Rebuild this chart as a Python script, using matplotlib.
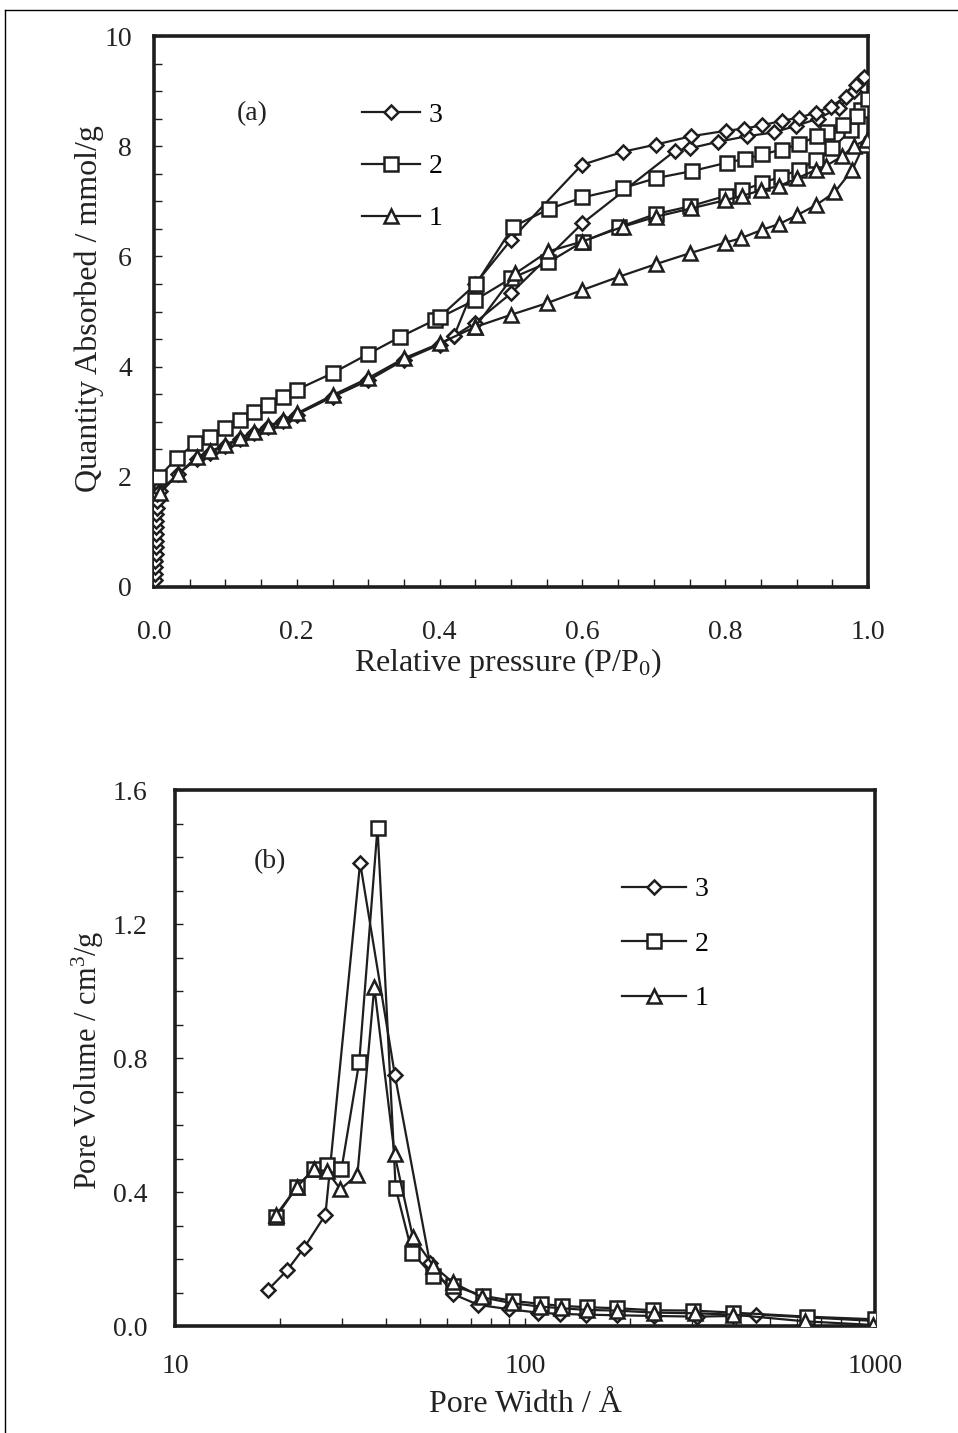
import matplotlib
matplotlib.use("Agg")
import matplotlib.pyplot as plt
from matplotlib.lines import Line2D
from matplotlib.ticker import MultipleLocator, FixedLocator, NullFormatter

plt.rcParams['font.family'] = ['Liberation Serif', 'DejaVu Serif']
plt.rcParams['mathtext.fontset'] = 'custom'
plt.rcParams['mathtext.rm'] = 'Liberation Serif'
plt.rcParams['mathtext.it'] = 'Liberation Serif'

# ---------------- Panel (a): isotherms ----------------
# sample 3 (diamond)
s3_ads_p = [0.0015, 0.0017, 0.0019, 0.0021, 0.0023, 0.0025, 0.0027, 0.0029, 0.0031, 0.0033, 0.0035,
            0.0037, 0.0039, 0.0042, 0.008, 0.034, 0.06, 0.078, 0.10, 0.12, 0.14, 0.16, 0.18, 0.20,
            0.25, 0.30, 0.35, 0.40, 0.42, 0.45, 0.50, 0.60, 0.73, 0.75, 0.79, 0.83, 0.868, 0.899,
            0.93, 0.96, 0.98, 0.99]
s3_ads_q = [0.12, 0.24, 0.36, 0.48, 0.60, 0.72, 0.84, 0.96, 1.08, 1.20, 1.32,
            1.44, 1.56, 1.68, 1.75, 2.05, 2.33, 2.44, 2.56, 2.68, 2.80, 2.90, 3.01, 3.13,
            3.45, 3.75, 4.12, 4.40, 4.55, 4.80, 5.33, 6.60, 7.92, 7.96, 8.08, 8.18, 8.25, 8.37,
            8.50, 8.70, 9.00, 9.20]
s3_des_p = [0.995, 0.983, 0.969, 0.948, 0.927, 0.904, 0.879, 0.852, 0.827, 0.801, 0.752, 0.703,
            0.657, 0.599, 0.50, 0.45, 0.42]
s3_des_q = [9.26, 9.11, 8.90, 8.72, 8.61, 8.52, 8.46, 8.38, 8.32, 8.28, 8.18, 8.03,
            7.90, 7.66, 6.30, 5.50, 4.55]

# sample 2 (square)
s2_ads_p = [0.007, 0.032, 0.058, 0.079, 0.10, 0.12, 0.14, 0.16, 0.18, 0.20, 0.25, 0.30, 0.345,
            0.394, 0.45, 0.50, 0.552, 0.601, 0.651, 0.703, 0.751, 0.801, 0.824, 0.852, 0.878,
            0.903, 0.927, 0.95, 0.976, 0.99, 1.0]
s2_ads_q = [2.00, 2.34, 2.61, 2.73, 2.88, 3.03, 3.18, 3.30, 3.44, 3.58, 3.88, 4.23, 4.54,
            4.85, 5.21, 5.60, 5.89, 6.27, 6.53, 6.77, 6.91, 7.10, 7.20, 7.33, 7.45,
            7.57, 7.75, 7.96, 8.29, 8.66, 8.85]
s2_des_p = [0.985, 0.965, 0.943, 0.928, 0.904, 0.879, 0.852, 0.828, 0.802, 0.754, 0.703, 0.657,
            0.600, 0.553, 0.503, 0.451, 0.40]
s2_des_q = [8.55, 8.38, 8.26, 8.18, 8.04, 7.94, 7.85, 7.77, 7.70, 7.55, 7.42, 7.24,
            7.07, 6.86, 6.54, 5.50, 4.90]

# sample 1 (triangle)
s1_ads_p = [0.008, 0.034, 0.06, 0.078, 0.10, 0.12, 0.14, 0.16, 0.18, 0.20, 0.25, 0.30, 0.35,
            0.40, 0.45, 0.50, 0.55, 0.60, 0.651, 0.703, 0.751, 0.80, 0.822, 0.851, 0.876, 0.901,
            0.927, 0.953, 0.978, 0.994]
s1_ads_q = [1.70, 2.05, 2.36, 2.46, 2.58, 2.70, 2.82, 2.92, 3.03, 3.15, 3.48, 3.79, 4.15,
            4.42, 4.72, 4.94, 5.15, 5.39, 5.63, 5.86, 6.06, 6.25, 6.33, 6.48, 6.59, 6.75,
            6.93, 7.16, 7.57, 8.02]
s1_des_p = [0.998, 0.98, 0.964, 0.941, 0.927, 0.901, 0.876, 0.85, 0.824, 0.80, 0.752, 0.703,
            0.657, 0.60, 0.552, 0.506, 0.45]
s1_des_q = [8.12, 8.00, 7.82, 7.64, 7.57, 7.42, 7.28, 7.20, 7.10, 7.02, 6.87, 6.72,
            6.54, 6.27, 6.09, 5.69, 4.72]

# ---------------- Panel (b): pore size distribution ----------------
s3_D = [18.4, 20.9, 23.4, 26.9, 33.8, 42.5, 53.5, 62.4, 73.6, 90.2, 108.6, 126, 149, 183, 233,
        310, 394, 457, 1000]
s3_V = [0.107, 0.166, 0.234, 0.332, 1.383, 0.748, 0.188, 0.095, 0.063, 0.050, 0.040, 0.036,
        0.034, 0.032, 0.030, 0.028, 0.030, 0.034, 0.015]
s2_D = [19.4, 22.3, 24.9, 27.2, 29.9, 33.6, 37.9, 42.7, 47.6, 54.7, 62.4, 76.0, 92.3, 111,
        127.4, 150.7, 183.6, 232.8, 302.9, 392.3, 638, 1000]
s2_V = [0.324, 0.415, 0.468, 0.480, 0.468, 0.788, 1.488, 0.412, 0.218, 0.149, 0.12, 0.090,
        0.075, 0.066, 0.060, 0.056, 0.053, 0.047, 0.046, 0.040, 0.028, 0.020]
s1_D = [19.4, 22.3, 24.9, 27.2, 29.7, 33.2, 37.1, 42.4, 47.8, 54.7, 62.2, 75.2, 91.9, 110.5,
        127, 150, 183, 233, 305, 392, 630, 990]
s1_V = [0.330, 0.415, 0.468, 0.462, 0.408, 0.452, 1.012, 0.512, 0.266, 0.180, 0.130, 0.086,
        0.068, 0.058, 0.053, 0.048, 0.046, 0.040, 0.038, 0.034, 0.014, 0.003]

labels = ['3', '2', '1']

C = '#1e1e1e'
TC = '#222222'
W, H = 958, 1433
fig = plt.figure(figsize=(W / 100, H / 100), dpi=100)

# outer frame (top and left edges visible)
fig.add_artist(Line2D([5 / W, 1.0], [1 - 10 / H, 1 - 10 / H], color='black', lw=1.0,
                      transform=fig.transFigure))
fig.add_artist(Line2D([5 / W, 5 / W], [0, 1 - 10 / H], color='black', lw=1.0,
                      transform=fig.transFigure))

FS = 20      # tick / legend labels
LFS = 23     # axis titles
style = dict(color=C, lw=1.6, mfc='white', mec=C, mew=1.8, zorder=3)
mk = {'3': dict(marker='D', ms=7.5), '2': dict(marker='s', ms=9.5), '1': dict(marker='^', ms=9.5)}


def style_axes(ax):
    for s in ax.spines.values():
        s.set_linewidth(2.6)
        s.set_color(C)
    ax.tick_params(which='both', direction='in', length=6, width=1.0, color=C,
                   top=False, right=False, labelsize=FS, labelcolor=TC)


# ---- (a)
axa = fig.add_axes([154 / W, 1 - 587 / H, (868 - 154) / W, (587 - 36) / H])
style_axes(axa)
h3, = axa.plot(s3_ads_p + s3_des_p, s3_ads_q + s3_des_q, **style, **mk['3'])
h2, = axa.plot(s2_ads_p + s2_des_p, s2_ads_q + s2_des_q, **style, **mk['2'])
h1, = axa.plot(s1_ads_p + s1_des_p, s1_ads_q + s1_des_q, **style, **mk['1'])
axa.set_xlim(0, 1.0)
axa.set_ylim(0, 10)
axa.xaxis.set_major_locator(MultipleLocator(0.2))
axa.xaxis.set_minor_locator(MultipleLocator(0.05))
axa.yaxis.set_major_locator(MultipleLocator(2))
axa.yaxis.set_minor_locator(MultipleLocator(0.5))
axa.xaxis.set_major_formatter(plt.FuncFormatter(lambda v, p: f'{v:.1f}'))
axa.yaxis.set_major_formatter(plt.FuncFormatter(lambda v, p: f'{v:.0f}'))
axa.tick_params(axis='x', pad=24)
axa.tick_params(axis='y', pad=16)
axa.set_xlabel('Relative pressure (P/P$_0$)', fontsize=LFS, color=TC)
axa.xaxis.set_label_coords(0.496, -0.138)
axa.xaxis.label.set_va('center')
axa.set_ylabel('Quantity Absorbed / mmol/g', fontsize=LFS, color=TC)
axa.yaxis.set_label_coords(-0.09, 0.505)
axa.yaxis.label.set_va('center')
axa.text(0.137, 0.860, '(a)', transform=axa.transAxes, fontsize=FS, ha='center',
         va='center', color=TC)
axa.legend([h3, h2, h1], labels, loc='upper left', bbox_to_anchor=(0.291, 0.880),
           frameon=False, fontsize=FS, handlelength=2.1, handletextpad=0.3,
           labelspacing=0.95, borderpad=0, borderaxespad=0, numpoints=1)

# ---- (b)
axb = fig.add_axes([175 / W, 1 - 1326 / H, (875 - 175) / W, (1326 - 790) / H])
style_axes(axb)
g3, = axb.plot(s3_D, s3_V, **style, **mk['3'])
g2, = axb.plot(s2_D, s2_V, **style, **mk['2'])
g1, = axb.plot(s1_D, s1_V, **style, **mk['1'])
axb.set_xscale('log')
axb.set_xlim(10, 1000)
axb.set_ylim(0, 1.6)
axb.xaxis.set_major_locator(FixedLocator([10, 100, 1000]))
axb.xaxis.set_minor_locator(FixedLocator([20, 30, 40, 50, 60, 70, 80, 90,
                                          200, 300, 400, 500, 600, 700, 800, 900]))
axb.xaxis.set_minor_formatter(NullFormatter())
axb.xaxis.set_major_formatter(plt.FuncFormatter(lambda v, p: f'{v:.0f}'))
axb.yaxis.set_major_locator(MultipleLocator(0.4))
axb.yaxis.set_minor_locator(MultipleLocator(0.1))
axb.yaxis.set_major_formatter(plt.FuncFormatter(lambda v, p: f'{v:.1f}'))
axb.tick_params(axis='x', pad=20)
axb.tick_params(axis='y', pad=20)
axb.set_xlabel('Pore Width / Å', fontsize=LFS, color=TC)
axb.xaxis.set_label_coords(0.50, -0.147)
axb.xaxis.label.set_va('center')
axb.set_ylabel('Pore Volume / cm$^3$/g', fontsize=LFS - 1, color=TC)
axb.yaxis.set_label_coords(-0.124, 0.496)
axb.yaxis.label.set_va('center')
axb.text(0.136, 0.866, '(b)', transform=axb.transAxes, fontsize=FS, ha='center',
         va='center', color=TC)
axb.legend([g3, g2, g1], labels, loc='upper left', bbox_to_anchor=(0.639, 0.838),
           frameon=False, fontsize=FS, handlelength=2.3, handletextpad=0.3,
           labelspacing=1.05, borderpad=0, borderaxespad=0, numpoints=1)

fig.savefig('out.png', dpi=100)
